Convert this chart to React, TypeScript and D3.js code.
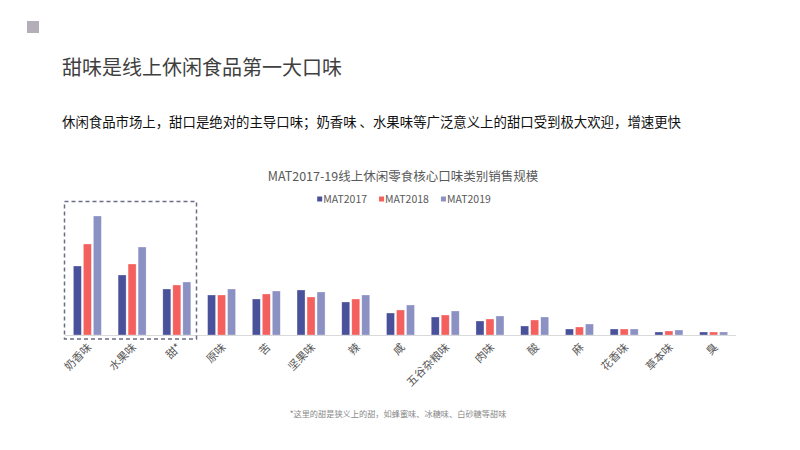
import React, { useEffect, useRef } from 'react';
import * as d3 from 'd3';

// flavour categories, left to right
const categories = ['奶香味', '水果味', '甜*', '原味', '苦', '坚果味', '辣', '咸', '五谷杂粮味', '肉味', '酸', '麻', '花香味', '草本味', '臭'];
const seriesNames = ['MAT2017', 'MAT2018', 'MAT2019'];
// values (relative scale)
const mat2017 = [69, 60, 46, 40, 36, 45, 33, 22, 18, 14, 9, 6, 6, 3, 3];
const mat2018 = [91, 71, 50, 40, 41, 38, 36, 25, 20, 16, 15, 8, 6, 4, 3];
const mat2019 = [119, 88, 53, 46, 44, 43, 40, 30, 24, 19, 18, 11, 6, 5, 3];
const colors = ['#4a519b', '#f4605e', '#8b91c3'];

const W = 800;
const H = 450;
const font = '"Microsoft YaHei", "Noto Sans CJK SC", sans-serif';

export default function App() {
    const svgRef = useRef<SVGSVGElement>(null);

    useEffect(() => {
        if (!svgRef.current) return;
        const svg = d3.select(svgRef.current);
        svg.selectAll('*').remove();

        const left = 65, right = 736, base = 335;

        svg.append('rect').attr('width', W).attr('height', H).attr('fill', '#fff');

        // header
        svg.append('rect').attr('x', 27).attr('y', 21).attr('width', 12).attr('height', 12).attr('fill', '#b3aeb8');
        svg.append('text')
            .attr('x', 62).attr('y', 75)
            .attr('font-size', 20).attr('fill', '#3f3f3f')
            .text('甜味是线上休闲食品第一大口味');
        svg.append('text')
            .attr('x', 62).attr('y', 127)
            .attr('font-size', 13.4).attr('fill', '#111')
            .text('休闲食品市场上，甜口是绝对的主导口味；奶香味 、水果味等广泛意义上的甜口受到极大欢迎，增速更快');

        // chart title
        svg.append('text')
            .attr('x', 403).attr('y', 181)
            .attr('text-anchor', 'middle')
            .attr('font-size', 12.5).attr('fill', '#595959')
            .text('MAT2017-19线上休闲零食核心口味类别销售规模');

        // legend, laid out from measured text widths and centred
        const legend = svg.append('g');
        const items = legend.selectAll('g')
            .data(seriesNames)
            .join('g');
        items.append('rect')
            .attr('x', 0).attr('y', -2.5).attr('width', 5).attr('height', 5)
            .attr('fill', (d, i) => colors[i]);
        items.append('text')
            .attr('x', 6).attr('y', 4)
            .attr('font-size', 10.5).attr('fill', '#595959')
            .text(d => d);
        let cursor = 0;
        items.each(function () {
            const g = d3.select(this);
            g.attr('transform', `translate(${cursor},0)`);
            const w = (g.select('text').node() as SVGTextElement).getComputedTextLength();
            cursor += 6 + w + 12;
        });
        const total = cursor - 12;
        legend.attr('transform', `translate(${404 - total / 2},199)`);

        const x0 = d3.scaleBand().domain(categories).range([left, right]);
        const y = d3.scaleLinear().domain([0, 120]).range([base, base - 120]);

        const barW = 8;
        const gap = 2;
        const series = [mat2017, mat2018, mat2019];

        series.forEach((vals, si) => {
            svg.append('g')
                .selectAll('rect')
                .data(vals)
                .join('rect')
                .attr('x', (d, i) => (x0(categories[i]) as number) + x0.bandwidth() / 2 - 1.5 * barW - gap + si * (barW + gap))
                .attr('y', d => y(d))
                .attr('width', barW)
                .attr('height', d => base - y(d))
                .attr('fill', colors[si])
                .attr('stroke', '#fff')
                .attr('stroke-opacity', 0.5)
                .attr('stroke-width', 0.6);
        });

        // axis line
        svg.append('line')
            .attr('x1', left).attr('x2', right)
            .attr('y1', base + 0.5).attr('y2', base + 0.5)
            .attr('stroke', '#d9d9d9').attr('stroke-width', 1);

        // rotated category labels
        svg.append('g')
            .selectAll('text')
            .data(categories)
            .join('text')
            .attr('transform', d => `translate(${(x0(d) as number) + x0.bandwidth() / 2 + 5},${base + 13}) rotate(-45)`)
            .attr('text-anchor', 'end')
            .attr('font-size', 11).attr('fill', '#595959')
            .text(d => d);

        // highlight box around the sweet flavours
        svg.append('rect')
            .attr('x', 64.5).attr('y', 201.5)
            .attr('width', 132).attr('height', 137.5)
            .attr('fill', 'none')
            .attr('stroke', '#6b6e85').attr('stroke-width', 1.5)
            .attr('stroke-dasharray', '4,3');

        // footnote
        svg.append('text')
            .attr('x', 398).attr('y', 417)
            .attr('text-anchor', 'middle')
            .attr('font-size', 8.2).attr('fill', '#8a8a8a')
            .text('*这里的甜是狭义上的甜，如蜂蜜味、冰糖味、白砂糖等甜味');
    }, []);

    return (
        <svg
            ref={svgRef}
            width={W}
            height={H}
            viewBox={`0 0 ${W} ${H}`}
            style={{ position: 'absolute', left: 0, top: 0, display: 'block', fontFamily: font }}
        />
    );
}
